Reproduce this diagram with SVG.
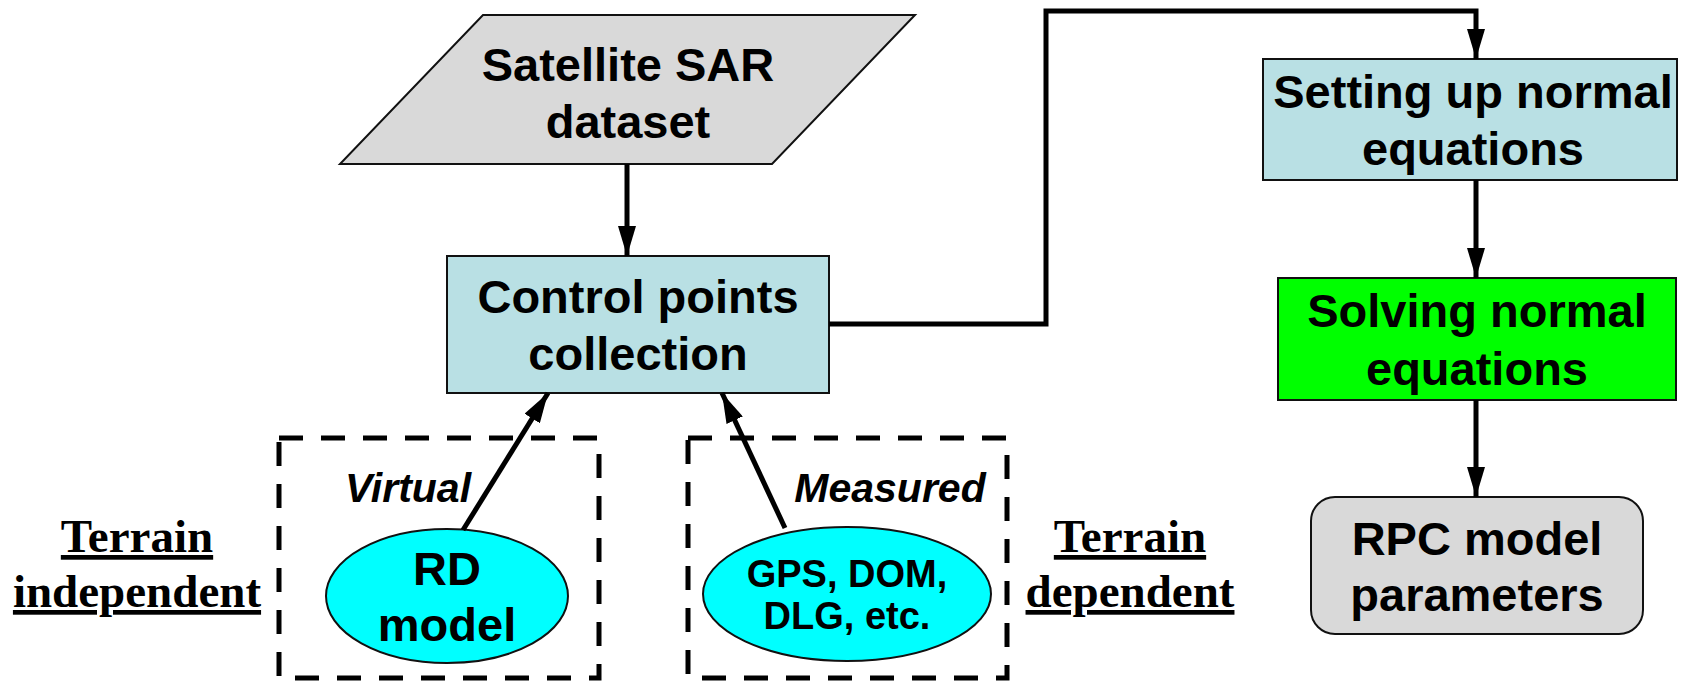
<svg xmlns="http://www.w3.org/2000/svg" width="1694" height="681" viewBox="0 0 1694 681">
  <defs>
    <marker id="arrow" markerUnits="userSpaceOnUse" markerWidth="30" markerHeight="18" refX="30" refY="9" orient="auto">
      <path d="M0,0 L30,9 L0,18 Z" fill="#000"/>
    </marker>
    <style>
      .box { stroke: #111; stroke-width: 2; }
      .blue { fill: #b9e0e4; }
      .grey { fill: #d9d9d9; }
      .green { fill: #00ff00; }
      .cyan { fill: #00ffff; stroke: #111; stroke-width: 2; }
      .dash { fill: none; stroke: #000; stroke-width: 5; stroke-dasharray: 24 18; }
      .lbl { font-family: "Liberation Sans", Arial, sans-serif; font-weight: bold; font-size: 47px; text-anchor: middle; fill: #000; }
      .small { font-size: 38px; }
      .ital { font-family: "Liberation Sans", Arial, sans-serif; font-weight: bold; font-style: italic; font-size: 41px; text-anchor: middle; fill: #000; }
      .terrain { font-family: "Liberation Serif", "Times New Roman", serif; font-weight: bold; font-size: 47px; text-anchor: middle; fill: #000; text-decoration: underline; }
      .conn { fill: none; stroke: #000; stroke-width: 5; }
    </style>
  </defs>

  <!-- dashed grouping frames -->
  <g id="frame-virtual">
    <rect class="dash" x="279" y="438" width="320" height="240"/>
  </g>
  <g id="frame-measured">
    <rect class="dash" x="688" y="438" width="319" height="240"/>
  </g>

  <!-- input dataset -->
  <g id="sar-dataset">
    <polygon class="box grey" points="483,15 915,15 772,164 340,164"/>
    <text class="lbl" x="628" y="81">Satellite SAR</text>
    <text class="lbl" x="628" y="138">dataset</text>
  </g>

  <g id="control-points">
    <rect class="box blue" x="447" y="256" width="382" height="137"/>
    <text class="lbl" x="638" y="313">Control points</text>
    <text class="lbl" x="638" y="370">collection</text>
  </g>

  <g id="setting-up">
    <rect class="box blue" x="1263" y="59" width="414" height="121"/>
    <text class="lbl" x="1473" y="108">Setting up normal</text>
    <text class="lbl" x="1473" y="165">equations</text>
  </g>

  <g id="solving">
    <rect class="box green" x="1278" y="278" width="398" height="122"/>
    <text class="lbl" x="1477" y="327">Solving normal</text>
    <text class="lbl" x="1477" y="385">equations</text>
  </g>

  <g id="rpc-parameters">
    <rect class="box grey" x="1311" y="497" width="332" height="137" rx="24" ry="24"/>
    <text class="lbl" x="1477" y="555">RPC model</text>
    <text class="lbl" x="1477" y="611">parameters</text>
  </g>

  <g id="rd-model">
    <ellipse class="cyan" cx="447" cy="596" rx="121" ry="67"/>
    <text class="lbl" x="447" y="585">RD</text>
    <text class="lbl" x="447" y="641">model</text>
  </g>

  <g id="measured-data">
    <ellipse class="cyan" cx="847" cy="594" rx="144" ry="67"/>
    <text class="lbl small" x="847" y="587">GPS, DOM,</text>
    <text class="lbl small" x="847" y="629">DLG, etc.</text>
  </g>

  <g id="label-virtual">
    <text class="ital" x="408" y="502">Virtual</text>
  </g>
  <g id="label-measured">
    <text class="ital" x="890" y="502">Measured</text>
  </g>

  <g id="label-terrain-independent">
    <text class="terrain" x="137" y="552">Terrain</text>
    <text class="terrain" x="137" y="607">independent</text>
  </g>
  <g id="label-terrain-dependent">
    <text class="terrain" x="1130" y="552">Terrain</text>
    <text class="terrain" x="1130" y="607">dependent</text>
  </g>

  <!-- connectors -->
  <g id="connectors">
    <line class="conn" x1="627" y1="164" x2="627" y2="256" marker-end="url(#arrow)"/>
    <line class="conn" x1="463" y1="530" x2="548" y2="393" marker-end="url(#arrow)"/>
    <line class="conn" x1="785" y1="528" x2="722" y2="393" marker-end="url(#arrow)"/>
    <polyline class="conn" points="829,324 1046,324 1046,11 1476,11 1476,59" marker-end="url(#arrow)"/>
    <line class="conn" x1="1476" y1="180" x2="1476" y2="278" marker-end="url(#arrow)"/>
    <line class="conn" x1="1476" y1="400" x2="1476" y2="497" marker-end="url(#arrow)"/>
  </g>
</svg>
